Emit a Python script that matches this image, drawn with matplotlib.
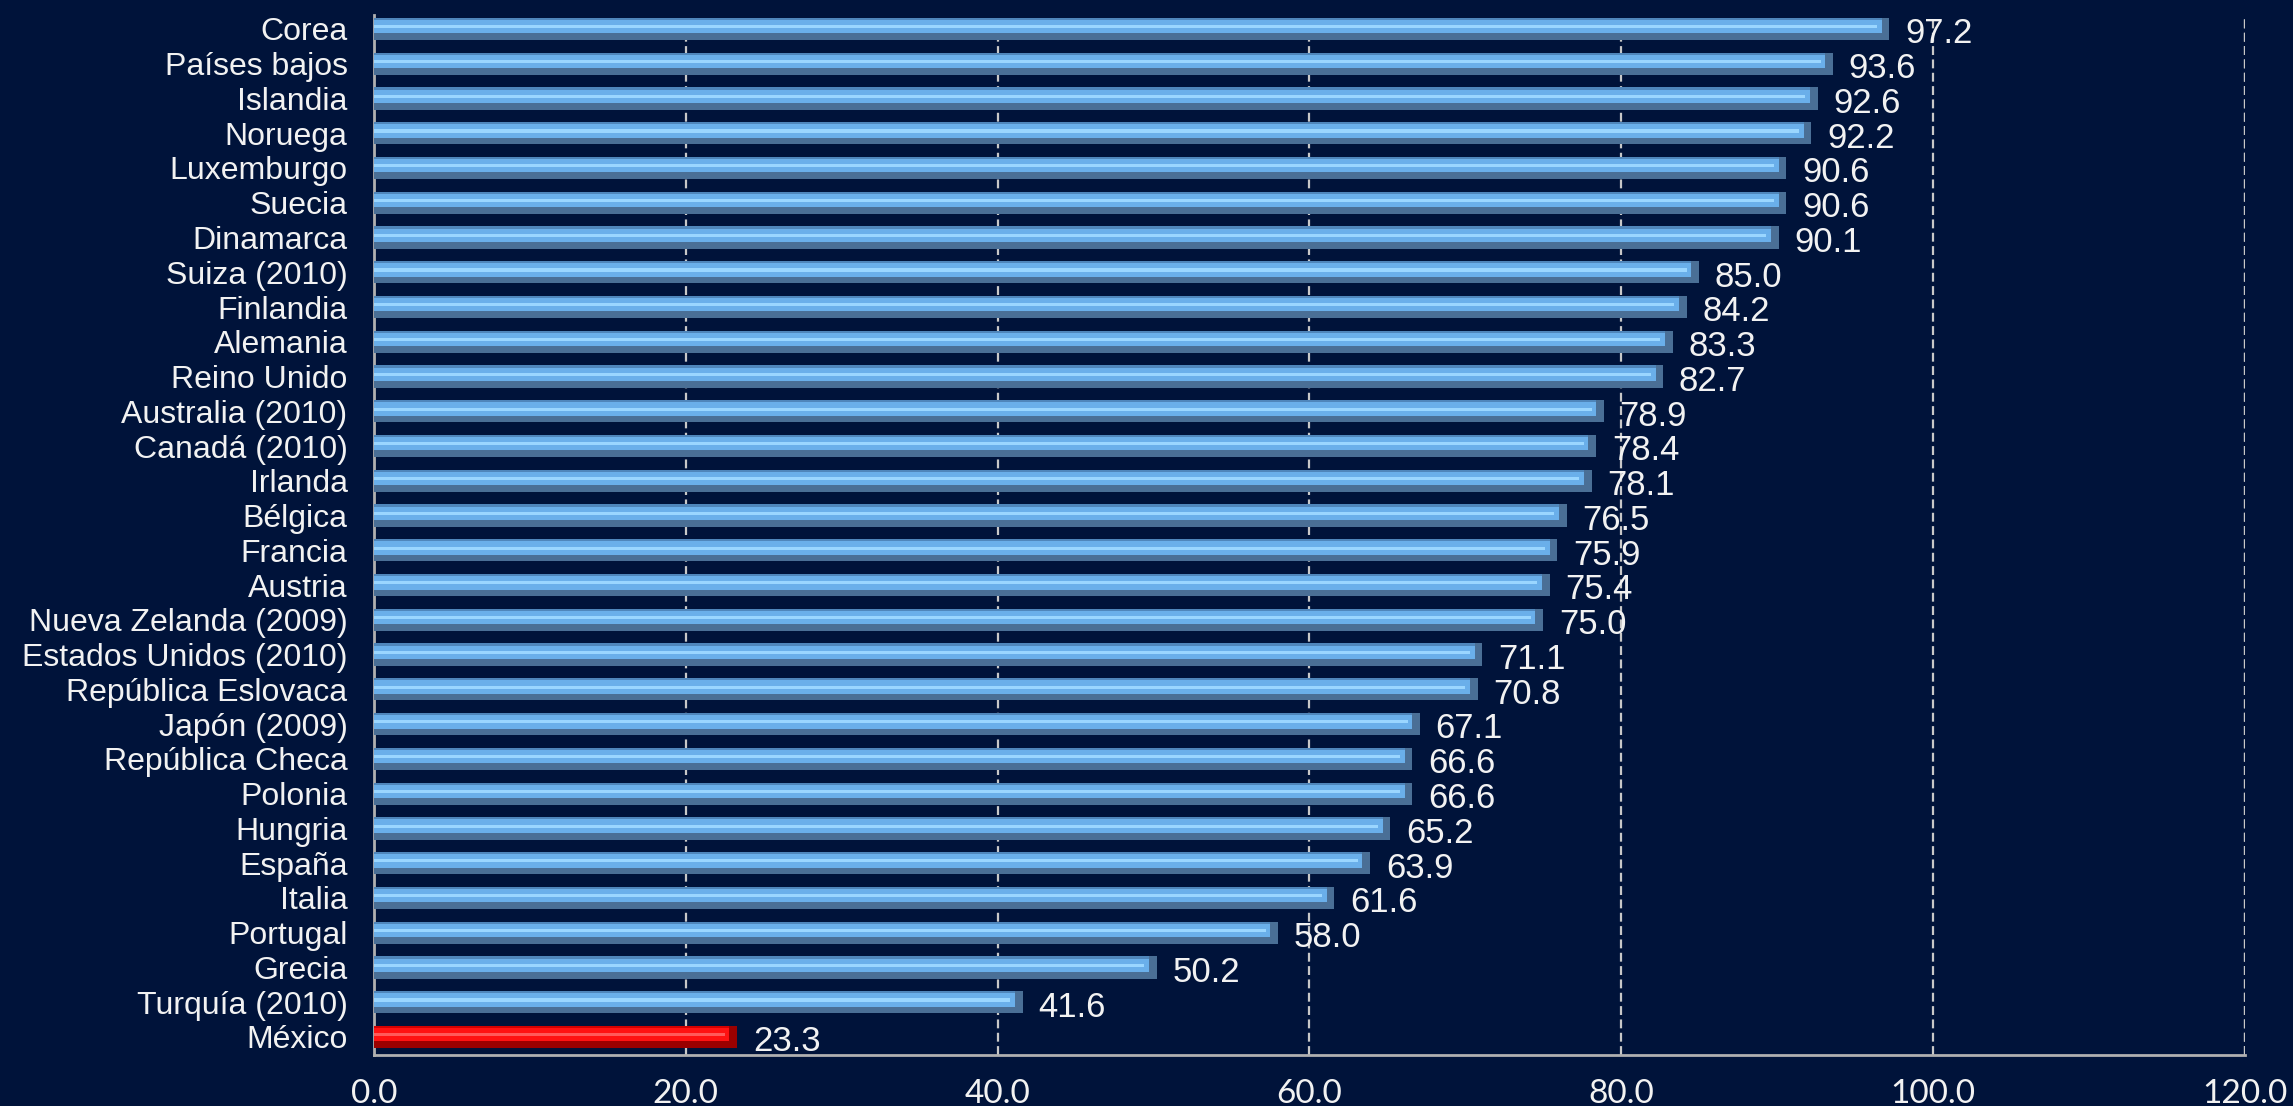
import numpy as np
import matplotlib.pyplot as plt

# data
countries = ['Corea', 'Países bajos', 'Islandia', 'Noruega', 'Luxemburgo', 'Suecia',
             'Dinamarca', 'Suiza (2010)', 'Finlandia', 'Alemania', 'Reino Unido',
             'Australia (2010)', 'Canadá (2010)', 'Irlanda', 'Bélgica', 'Francia',
             'Austria', 'Nueva Zelanda (2009)', 'Estados Unidos (2010)',
             'República Eslovaca', 'Japón (2009)', 'República Checa', 'Polonia',
             'Hungria', 'España', 'Italia', 'Portugal', 'Grecia', 'Turquía (2010)',
             'México']
values = [97.2, 93.6, 92.6, 92.2, 90.6, 90.6, 90.1, 85.0, 84.2, 83.3, 82.7,
          78.9, 78.4, 78.1, 76.5, 75.9, 75.4, 75.0, 71.1, 70.8, 67.1, 66.6,
          66.6, 65.2, 63.9, 61.6, 58.0, 50.2, 41.6, 23.3]
xticks = [0, 20, 40, 60, 80, 100, 120]
highlight = 'México'

bg = '#00133a'
txt = '#f2f2f2'
plt.rcParams['font.family'] = ['Liberation Sans', 'DejaVu Sans']

fig = plt.figure(figsize=(22.93, 11.06), dpi=100, facecolor=bg)
ax = fig.add_axes([0.1631, 0.0461, 0.8159, 0.9403], facecolor=bg)

y = np.arange(len(countries))
h = 0.64

for yi, name, v in zip(y, countries, values):
    if name == highlight:
        base, edge, mid, light = '#9a0000', '#d40000', '#ff1212', '#ff5a5a'
    else:
        base, edge, mid, light = '#4a6f96', '#4f86bb', '#6aafea', '#9ad6ff'
    # layered bars give the bevelled look
    ax.barh(yi, v, height=h, color=base, zorder=3)
    ax.barh(yi - h * 0.15, v - 0.5, height=h * 0.7, color=mid, zorder=4)
    ax.barh(yi - h * 0.1, v - 0.8, height=h * 0.14, color=light, zorder=5)
    ax.barh(yi - h * 0.45, v - 0.5, height=h * 0.1, color=edge, zorder=5)
    ax.text(v + 1.0, yi + 0.14, f'{v:.1f}', color=txt, fontsize=25,
            va='center', ha='left', zorder=6)

ax.set_xlim(0, 120)
ax.set_ylim(29.52, -0.4)
ax.set_yticks(y)
ax.set_yticklabels(countries, fontsize=23, color=txt)
ax.set_xticks(xticks)
ax.set_xticklabels([f'{t:.1f}' for t in xticks], fontsize=24, color=txt, family='Lato')
ax.tick_params(axis='y', length=0, pad=19)
ax.tick_params(axis='x', length=0, pad=17)

ax.grid(axis='x', color='#c8c8c8', linestyle=(0, (4, 2)), linewidth=1.6, zorder=1)
ax.grid(axis='y', visible=False)
ax.axvline(120, color='#c8c8c8', linestyle=(0, (4, 2)), linewidth=1.6, zorder=1)

for s in ['top', 'right']:
    ax.spines[s].set_visible(False)
ax.spines['left'].set_color('#b0b0b0')
ax.spines['bottom'].set_color('#b0b0b0')
ax.spines['left'].set_linewidth(2)
ax.spines['bottom'].set_linewidth(2)

fig.savefig('out.png', dpi=100, facecolor=bg)
